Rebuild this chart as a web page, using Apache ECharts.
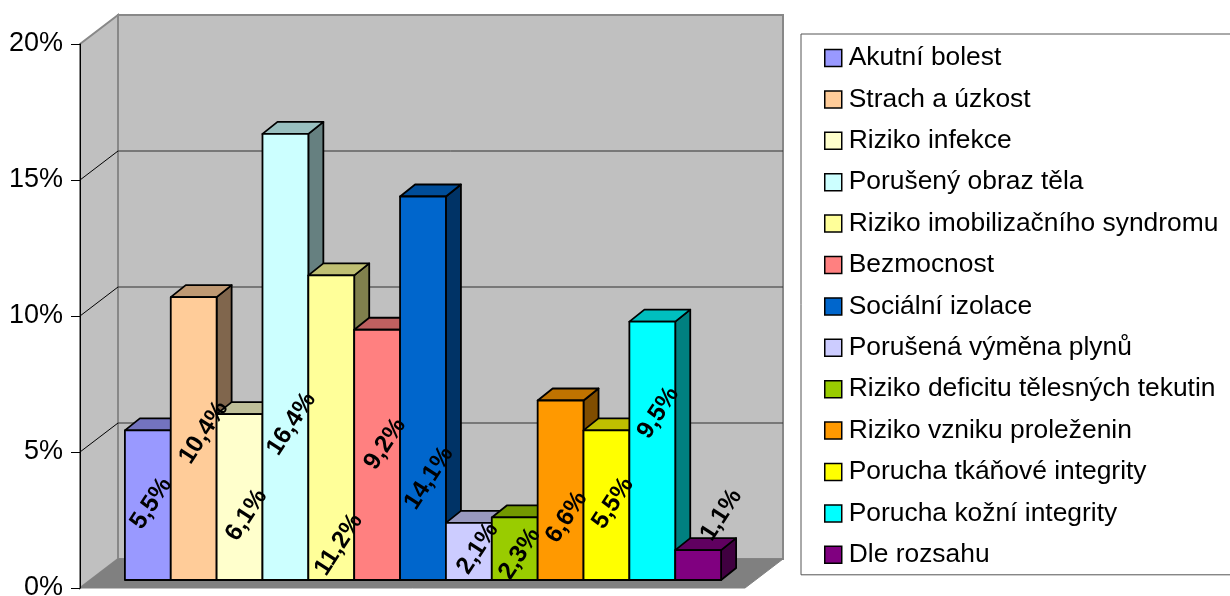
<!DOCTYPE html>
<html>
<head>
<meta charset="utf-8">
<script src="https://cdn.jsdelivr.net/npm/echarts@6/dist/echarts.min.js"></script>
<style>
  html, body { margin: 0; padding: 0; background: #ffffff; }
  #chart { width: 1230px; height: 596px; }
</style>
</head>
<body>
<div id="chart"></div>
<script>
// Nursing diagnoses and their share of cases (%)
const categories = [
  'Akutní bolest',
  'Strach a úzkost',
  'Riziko infekce',
  'Porušený obraz těla',
  'Riziko imobilizačního syndromu',
  'Bezmocnost',
  'Sociální izolace',
  'Porušená výměna plynů',
  'Riziko deficitu tělesných tekutin',
  'Riziko vzniku proleženin',
  'Porucha tkáňové integrity',
  'Porucha kožní integrity',
  'Dle rozsahu'
];
const values = [5.5, 10.4, 6.1, 16.4, 11.2, 9.2, 14.1, 2.1, 2.3, 6.6, 5.5, 9.5, 1.1];
const yTickValues = [0, 5, 10, 15, 20];

// Front-face colours of the boxes
const colors = ['#9999FF', '#FFCC99', '#FFFFCC', '#CCFFFF', '#FFFF99', '#FF8080', '#0066CC',
                '#CCCCFF', '#99CC00', '#FF9900', '#FFFF00', '#00FFFF', '#800080'];

// Hand-placed label nudges (px) relative to the centre of each box's front face
const labelNudge = [[3.5, -1.7], [10, -6], [7, 18], [6, 67], [7.5, 117], [8, -11], [6, 90],
                    [9, -3], [5, 5], [6, 27], [6.5, -2], [6, -38], [23, -50]];

const FONT = '"Liberation Sans", Arial, sans-serif';
const X_MIN = -1.25, X_MAX = categories.length + 0.25;
const Y_MAX = yTickValues[yTickValues.length - 1];

// Depth of a box, and offsets from the box plane to the front / back planes of the floor
const BOX_DX = 15, BOX_DY = -12;
const FRONT = [-10.5, 8];
const BACK = [27.5, -21];

function shade(hex, k) {
  const n = parseInt(hex.slice(1), 16);
  const r = Math.round(((n >> 16) & 255) * k);
  const g = Math.round(((n >> 8) & 255) * k);
  const b = Math.round((n & 255) * k);
  return 'rgb(' + r + ',' + g + ',' + b + ')';
}

function fmt(v) {
  return v.toFixed(1).replace('.', ',') + '%';
}

// Back wall, side wall, floor and their grid lines
function renderWalls(params, api) {
  const a = api.coord([X_MIN, 0]);
  const b = api.coord([X_MAX, Y_MAX]);
  const wallFill = '#C0C0C0';
  const edge = '#888888';
  const children = [
    {
      type: 'polygon',
      shape: { points: [
        [a[0] + FRONT[0], b[1] + FRONT[1]], [a[0] + BACK[0], b[1] + BACK[1]],
        [a[0] + BACK[0], a[1] + BACK[1]], [a[0] + FRONT[0], a[1] + FRONT[1]]
      ] },
      style: { fill: wallFill, stroke: edge, lineWidth: 2 }
    },
    {
      type: 'rect',
      shape: { x: a[0] + BACK[0], y: b[1] + BACK[1], width: b[0] - a[0], height: a[1] - b[1] },
      style: { fill: wallFill, stroke: edge, lineWidth: 2 }
    },
    {
      type: 'polygon',
      shape: { points: [
        [a[0] + FRONT[0], a[1] + FRONT[1]], [a[0] + BACK[0], a[1] + BACK[1]],
        [b[0] + BACK[0], a[1] + BACK[1]], [b[0] + FRONT[0], a[1] + FRONT[1]]
      ] },
      style: { fill: '#808080', stroke: '#808080', lineWidth: 1 }
    }
  ];
  yTickValues.forEach(function (v) {
    if (v === 0 || v === Y_MAX) return;
    const y = api.coord([X_MIN, v])[1];
    children.push({
      type: 'line',
      shape: { x1: a[0] + BACK[0], y1: y + BACK[1], x2: b[0] + BACK[0], y2: y + BACK[1] },
      style: { stroke: '#303030', lineWidth: 1 }
    });
    children.push({
      type: 'line',
      shape: { x1: a[0] + FRONT[0], y1: y + FRONT[1], x2: a[0] + BACK[0], y2: y + BACK[1] },
      style: { stroke: '#000000', lineWidth: 1 }
    });
  });
  return { type: 'group', children: children };
}

// One box with its front, top and right-hand faces plus its value label
function makeBoxRenderer(idx) {
  return function (params, api) {
    const x = api.value(0);
    const v = api.value(1);
    const tl = api.coord([x - 0.5, v]);
    const br = api.coord([x + 0.5, 0]);
    const mid = api.coord([x, v / 2]);
    const base = colors[idx];
    const stroke = { stroke: '#000000', lineWidth: 1.8, lineJoin: 'round' };
    return {
      type: 'group',
      children: [
        {
          type: 'polygon', z2: 1,
          shape: { points: [[br[0], tl[1]], [br[0] + BOX_DX, tl[1] + BOX_DY],
                            [br[0] + BOX_DX, br[1] + BOX_DY], [br[0], br[1]]] },
          style: Object.assign({ fill: shade(base, 0.5) }, stroke)
        },
        {
          type: 'polygon', z2: 1,
          shape: { points: [[tl[0], tl[1]], [tl[0] + BOX_DX, tl[1] + BOX_DY],
                            [br[0] + BOX_DX, tl[1] + BOX_DY], [br[0], tl[1]]] },
          style: Object.assign({ fill: shade(base, 0.75) }, stroke)
        },
        {
          type: 'rect', z2: 1,
          shape: { x: tl[0], y: tl[1], width: br[0] - tl[0], height: br[1] - tl[1] },
          style: Object.assign({ fill: base }, stroke)
        },
        {
          type: 'text', z2: 20,
          x: mid[0] + labelNudge[idx][0],
          y: mid[1] + labelNudge[idx][1],
          rotation: 57 * Math.PI / 180,
          style: {
            text: fmt(v),
            fill: '#000000',
            font: 'bold 24.5px ' + FONT,
            align: 'center',
            verticalAlign: 'middle'
          }
        }
      ]
    };
  };
}

const series = [{
  type: 'custom',
  name: 'walls',
  xAxisIndex: 0,
  yAxisIndex: 0,
  z: 1,
  silent: true,
  data: [[0, 0]],
  renderItem: renderWalls
}];

categories.forEach(function (name, i) {
  series.push({
    type: 'custom',
    name: name,
    xAxisIndex: 0,
    yAxisIndex: 0,
    z: 2,
    itemStyle: { color: colors[i] },
    data: [[i, values[i]]],
    renderItem: makeBoxRenderer(i)
  });
});

const chart = echarts.init(document.getElementById('chart'), null, { renderer: 'canvas' });
chart.setOption({
  animation: false,
  backgroundColor: '#ffffff',
  grid: [
    { left: 90.5, top: 36, width: 665, height: 544, outerBoundsMode: 'none', containLabel: false },
    { left: 80, top: 44, width: 665, height: 544, outerBoundsMode: 'none', containLabel: false }
  ],
  xAxis: [
    { type: 'value', gridIndex: 0, min: X_MIN, max: X_MAX, show: false },
    { type: 'value', gridIndex: 1, min: 0, max: 1, show: false }
  ],
  yAxis: [
    { type: 'value', gridIndex: 0, min: 0, max: Y_MAX, interval: 5, show: false },
    {
      type: 'value', gridIndex: 1, min: 0, max: Y_MAX, interval: 5, z: 10,
      axisLine: { show: true, lineStyle: { color: '#000000', width: 1 } },
      axisTick: { show: true, length: 9, lineStyle: { color: '#000000', width: 1 } },
      splitLine: { show: false },
      axisLabel: {
        margin: 17,
        color: '#000000',
        fontFamily: FONT,
        fontSize: 27,
        hideOverlap: false,
        formatter: function (v) { return v + '%'; }
      }
    }
  ],
  legend: {
    orient: 'vertical',
    left: 801,
    top: 34,
    padding: [11, 45, 7, 23],
    itemWidth: 17,
    itemHeight: 17,
    itemGap: 15.4,
    borderColor: '#555555',
    borderWidth: 1,
    backgroundColor: '#ffffff',
    selectedMode: false,
    textStyle: { fontFamily: FONT, fontSize: 26.4, color: '#000000', padding: [0, 0, 0, 2] },
    data: categories.map(function (name, i) {
      return {
        name: name,
        icon: 'rect',
        itemStyle: { color: colors[i], borderColor: '#000000', borderWidth: 1.5 }
      };
    })
  },
  series: series
});
</script>
</body>
</html>
